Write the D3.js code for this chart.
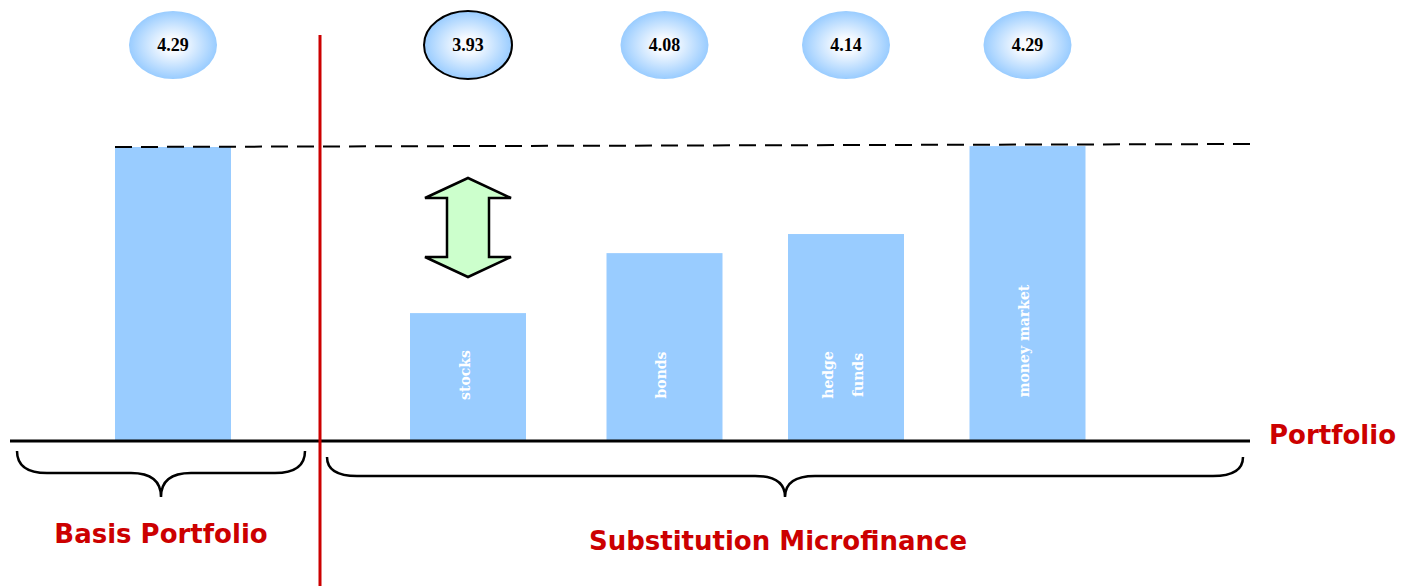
<!DOCTYPE html>
<html>
<head>
<meta charset="utf-8">
<script src="https://cdn.jsdelivr.net/npm/d3@7"></script>
<style>
  body { margin: 0; background: #fff; }
  svg { display: block; }
</style>
</head>
<body>
<svg id="chart" width="1403" height="586"></svg>
<script>
// categorias y valores
const categories = ['basis', 'stocks', 'bonds', 'hedge funds', 'money market'];
const barLabels = [[], ['stocks'], ['bonds'], ['hedge', 'funds'], ['money market']];
const scores = [4.29, 3.93, 4.08, 4.14, 4.29];
const barLevels = [100, 43.5, 63.9, 70.4, 100.3]; // altura relativa de cada barra
const highlighted = 'stocks';

const svg = d3.select('#chart');
const baseY = 441;
const barW = 116;

const xScale = d3.scaleOrdinal()
	.domain(categories)
	.range([173, 468, 664.5, 846, 1027.5]);

const yScale = d3.scaleLinear()
	.domain([0, 100])
	.range([baseY, 147]);

const defs = svg.append('defs');
const grad = defs.append('radialGradient').attr('id', 'bubble');
grad.append('stop').attr('offset', '0%').attr('stop-color', '#ffffff');
grad.append('stop').attr('offset', '25%').attr('stop-color', '#f4f9ff');
grad.append('stop').attr('offset', '100%').attr('stop-color', '#99ccff');

// barras
svg.selectAll('rect.bar')
	.data(categories)
	.enter()
	.append('rect')
	.attr('class', 'bar')
	.attr('x', d => xScale(d) - barW / 2)
	.attr('y', (d, i) => yScale(barLevels[i]))
	.attr('width', barW)
	.attr('height', (d, i) => baseY - yScale(barLevels[i]))
	.attr('fill', '#99ccff');

// etiquetas verticales dentro de las barras
categories.forEach((c, i) => {
	const lines = barLabels[i];
	const cy = i === 4 ? 341 : 375;
	lines.forEach((t, j) => {
		const dx = (j - (lines.length - 1) / 2) * 30;
		svg.append('text')
			.attr('transform', `translate(${xScale(c) - 3 + dx}, ${cy}) rotate(-90)`)
			.attr('text-anchor', 'middle')
			.attr('dy', '0.35em')
			.attr('fill', '#fff')
			.attr('font-family', 'DejaVu Serif, serif')
			.attr('font-weight', 'bold')
			.attr('font-size', 14)
			.text(t);
	});
});

// linea de referencia discontinua
svg.append('line')
	.attr('x1', xScale('basis') - barW / 2)
	.attr('y1', yScale(barLevels[0]))
	.attr('x2', 1250)
	.attr('y2', yScale(barLevels[0]) - 3)
	.attr('stroke', '#000')
	.attr('stroke-width', 2)
	.attr('stroke-dasharray', '17,9');

// eje base
svg.append('line')
	.attr('x1', 10).attr('x2', 1250)
	.attr('y1', baseY).attr('y2', baseY)
	.attr('stroke', '#000')
	.attr('stroke-width', 3);

// separador rojo
svg.append('line')
	.attr('x1', 320).attr('x2', 320)
	.attr('y1', 35).attr('y2', 586)
	.attr('stroke', '#cc0000')
	.attr('stroke-width', 3);

// burbujas con puntuacion
const bubbles = svg.selectAll('g.bubble')
	.data(categories)
	.enter()
	.append('g')
	.attr('transform', d => `translate(${xScale(d)}, 45)`);

bubbles.append('ellipse')
	.attr('rx', 44)
	.attr('ry', 34)
	.attr('fill', 'url(#bubble)')
	.attr('stroke', d => (d === highlighted ? '#000' : 'none'))
	.attr('stroke-width', 2);

bubbles.append('text')
	.attr('text-anchor', 'middle')
	.attr('dy', '0.35em')
	.attr('font-family', 'Liberation Serif, serif')
	.attr('font-weight', 'bold')
	.attr('font-size', 18)
	.text((d, i) => scores[i].toFixed(2));

// flecha doble sobre la barra destacada
const ax = xScale(highlighted);
const arrowTop = 178, arrowBottom = 277, headH = 20, headW = 43, shaftW = 21;
const arrow = [
	[ax, arrowTop], [ax + headW, arrowTop + headH], [ax + shaftW, arrowTop + headH],
	[ax + shaftW, arrowBottom - headH], [ax + headW, arrowBottom - headH], [ax, arrowBottom],
	[ax - headW, arrowBottom - headH], [ax - shaftW, arrowBottom - headH],
	[ax - shaftW, arrowTop + headH], [ax - headW, arrowTop + headH]
];
svg.append('path')
	.attr('d', d3.line()(arrow) + 'Z')
	.attr('fill', '#ccffcc')
	.attr('stroke', '#000')
	.attr('stroke-width', 2.5)
	.attr('stroke-linejoin', 'miter');

// llaves
const brace = (x0, x1, y0, ym, yt, r) => {
	const xm = (x0 + x1) / 2;
	return `M${x0},${y0} Q${x0},${ym} ${x0 + r},${ym} L${xm - r},${ym} Q${xm},${ym} ${xm},${yt}` +
		` Q${xm},${ym} ${xm + r},${ym} L${x1 - r},${ym} Q${x1},${ym} ${x1},${y0}`;
};
svg.append('path')
	.attr('d', brace(17, 305, 451, 473, 497, 30))
	.attr('fill', 'none').attr('stroke', '#000').attr('stroke-width', 2.5);
svg.append('path')
	.attr('d', brace(327, 1243, 457, 476, 497, 30))
	.attr('fill', 'none').attr('stroke', '#000').attr('stroke-width', 2.5);

// textos rojos
const red = (x, y, t, anchor) => svg.append('text')
	.attr('x', x).attr('y', y)
	.attr('text-anchor', anchor)
	.attr('fill', '#cc0000')
	.attr('font-family', 'DejaVu Sans, sans-serif')
	.attr('font-weight', 'bold')
	.attr('font-size', 26)
	.text(t);

red(161, 543, 'Basis Portfolio', 'middle');
red(778, 550, 'Substitution Microfinance', 'middle');
red(1269, 444, 'Portfolio', 'start');
</script>
</body>
</html>
